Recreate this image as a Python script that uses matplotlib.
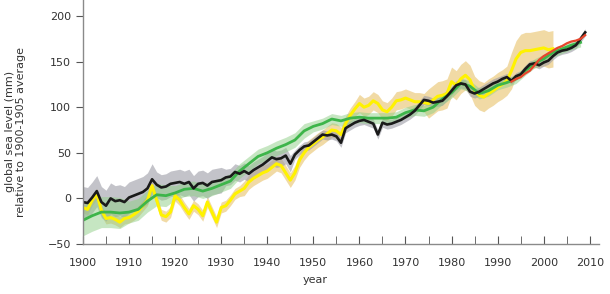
import matplotlib
matplotlib.use("Agg")
import matplotlib.pyplot as plt

# Tide gauge reconstruction (black, grey band)
black_years = list(range(1900, 2010))
black_vals = [-4, -5, 1, 8, -4, -8, 0, -3, -2, -4,
              1, 3, 5, 7, 11, 21, 15, 12, 13, 16,
              17, 18, 16, 18, 11, 16, 17, 14, 18, 19,
              20, 23, 24, 29, 27, 30, 27, 31, 34, 37,
              41, 45, 43, 44, 47, 38, 48, 53, 57, 58,
              62, 66, 70, 69, 70, 68, 61, 77, 80, 83,
              85, 86, 84, 82, 70, 83, 81, 82, 84, 86,
              89, 92, 96, 102, 108, 107, 105, 106, 107, 112,
              118, 124, 126, 125, 117, 115, 117, 120, 123, 126,
              128, 131, 133, 129, 134, 136, 142, 147, 148, 146,
              149, 151, 156, 160, 162, 163, 165, 168, 175, 182]
black_err = [17] * 16 + [14] * 15 + [9] * 15 + [5] * 45 + [4] * 19

# Second reconstruction (yellow, tan band)
yellow_years = list(range(1900, 2003))
yellow_vals = [-10, -12, -2, 5, -13, -22, -21, -23, -26, -22,
               -21, -18, -14, -8, -2, 14, -2, -18, -20, -15,
               3, -2, -10, -17, -8, -12, -19, -4, -15, -26,
               -10, -8, -2, 5, 8, 11, 18, 22, 25, 28,
               30, 34, 38, 36, 28, 20, 28, 42, 50, 56,
               60, 64, 67, 71, 75, 74, 70, 82, 91, 98,
               104, 100, 102, 107, 104, 97, 95, 100, 107, 108,
               110, 108, 106, 106, 105, 104, 108, 112, 113, 115,
               128, 124, 131, 135, 130, 118, 113, 111, 115, 118,
               122, 125, 129, 140, 153, 160, 162, 162, 163, 164,
               165, 163, 164]
yellow_err = [6] * 35 + [8] * 25 + [10] * 15 + [16] * 18 + [20] * 10

# Third reconstruction (green, light green band)
green_years = list(range(1900, 2009, 2))
green_vals = [-24, -19, -15, -15, -16, -15, -12, -3, 4, 3,
              6, 10, 11, 8, 11, 15, 19, 30, 38, 46,
              50, 55, 59, 64, 74, 79, 82, 87, 85, 88,
              89, 88, 88, 88, 89, 94, 97, 96, 100, 109,
              116, 126, 123, 115, 118, 124, 127, 131, 140, 148,
              153, 160, 164, 168, 171]
green_err = [17] * 5 + [12] * 5 + [8] * 15 + [6] * 20 + [5] * 10

# Satellite altimetry (red)
red_years = list(range(1993, 2010))
red_vals = [128, 131, 133, 137, 140, 146, 152, 156, 159, 162,
            165, 167, 170, 172, 173, 175, 179]

x_ticks = list(range(1900, 2011, 10))
y_ticks = [-50, 0, 50, 100, 150, 200]

plt.rcParams['font.family'] = ['DejaVu Sans']

fig = plt.figure(figsize=(6.1, 2.94), dpi=100)
ax = fig.add_axes([0.136, 0.170, 0.846, 0.830])


def band(years, vals, err):
    lo = [v - e for v, e in zip(vals, err)]
    hi = [v + e for v, e in zip(vals, err)]
    return lo, hi


lo, hi = band(yellow_years, yellow_vals, yellow_err)
ax.fill_between(yellow_years, lo, hi, color='#e6bd5c', alpha=0.55, lw=0)
lo, hi = band(black_years, black_vals, black_err)
ax.fill_between(black_years, lo, hi, color='#9c9ca6', alpha=0.6, lw=0)
lo, hi = band(green_years, green_vals, green_err)
ax.fill_between(green_years, lo, hi, color='#8fcf86', alpha=0.5, lw=0)

ax.plot(yellow_years, yellow_vals, color='#fff200', lw=2.2)
ax.plot(green_years, green_vals, color='#3db54a', lw=2.0)
ax.plot(black_years, black_vals, color='#1a1a1a', lw=1.9)
ax.plot(red_years, red_vals, color='#e8452c', lw=1.6)

ax.set_xlim(1900, 2012)
ax.set_ylim(-50, 217.5)
ax.set_xticks(x_ticks)
ax.set_xticks(list(range(1905, 2011, 10)), minor=True)
ax.set_yticks(y_ticks)

for side in ['top', 'right']:
    ax.spines[side].set_visible(False)
for side in ['left', 'bottom']:
    ax.spines[side].set_color('#8a8a8a')
    ax.spines[side].set_linewidth(1.0)

ax.tick_params(axis='x', direction='in', length=6, color='#555555',
               labelsize=8, labelcolor='#333333', pad=10)
ax.tick_params(axis='x', which='minor', direction='in', length=6, color='#555555')
ax.tick_params(axis='y', direction='out', length=5, color='#555555',
               labelsize=8, labelcolor='#333333')

ax.set_xlabel('year', fontsize=8, color='#333333')
ax.set_ylabel('global sea level (mm)\nrelative to 1900-1905 average',
              fontsize=8, color='#333333', linespacing=1.15)
ax.xaxis.set_label_coords(0.45, -0.125)
ax.yaxis.set_label_coords(-0.11, 0.46)

fig.savefig('out.png', dpi=100)
